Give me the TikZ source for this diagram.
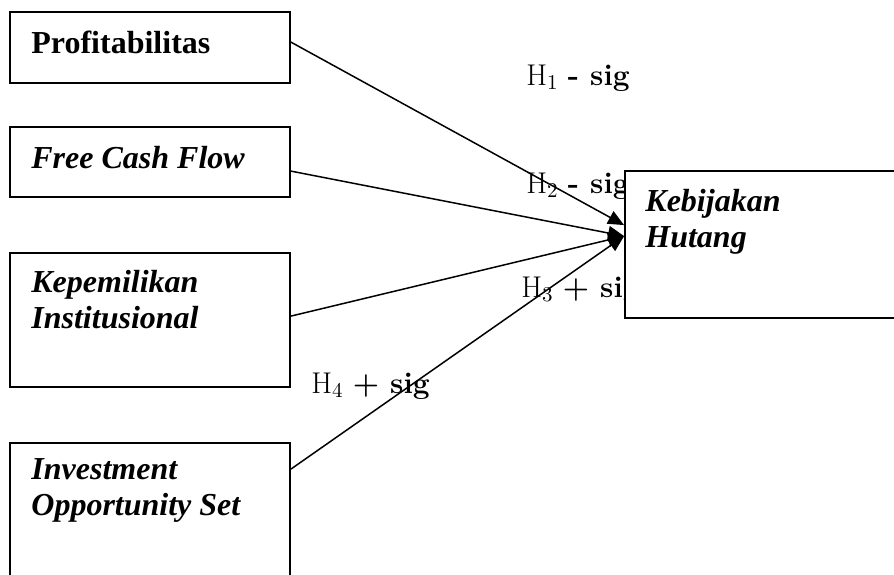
\documentclass[tikz,border=0pt]{standalone}
\usepackage{fontspec}
\newfontfamily\timesfont{Liberation Serif}
\usetikzlibrary{positioning,calc,arrows.meta}
\tikzset{
  box/.style={draw=black,fill=white,line width=0.9pt,rectangle,inner sep=0pt},
  var/.style={font=\timesfont\fontsize{16}{18}\selectfont\bfseries\itshape,align=left,anchor=base west,inner sep=0pt},
  varup/.style={var,font=\timesfont\fontsize{16}{18}\selectfont\bfseries},
  hyp/.style={font=\fontsize{15}{18}\selectfont,anchor=base west,inner sep=0pt},
  link/.style={draw=black,line width=0.75pt,-{Triangle[length=8pt,width=7pt]}},
}

\begin{document}
\begin{tikzpicture}[x=0.5pt,y=-0.5pt]
\useasboundingbox (0,0) rectangle (894,574);
\clip (0,0) rectangle (894,574);
% independent variables
\node[box,minimum width=140pt,minimum height=35.5pt] (prof) at (150,47.5) {};
\node[box,minimum width=140pt,minimum height=35pt] (fcf) at (150,162) {};
\node[box,minimum width=140pt,minimum height=67pt] (kep) at (150,320) {};
\node[box,minimum width=140pt,minimum height=83.5pt] (ios) at (150,526.5) {};
\node[varup] (profT) at (31,53) {Profitabilitas};
\node[var] (fcfT) at (31,168) {Free Cash Flow};
\node[var] (kepT) at (31,328) {Kepemilikan\\Institusional};
\node[var] (iosT) at (31,515) {Investment\\Opportunity Set};
% hypotheses
\node[hyp] (h1) at (526,85) {H\textsubscript{1} \textbf{- sig}};
\node[hyp] (h2) at (526,193) {H\textsubscript{2} \textbf{- sig}};
\node[hyp] (h3) at (521,297) {H\textsubscript{3} \textbf{+ sig}};
\node[hyp] (h4) at (311,393) {H\textsubscript{4} \textbf{+ sig}};
% dependent variable
\node[box,minimum width=150pt,minimum height=73.5pt] (hut) at (775,244.5) {};
\node[var] (hutT) at (645,247) {Kebijakan\\Hutang};
\coordinate (tip1) at ($(hut.north west)+(0,55)$);
\coordinate (tip) at ($(hut.north west)+(0,66)$);
\draw[link] ($(prof.north east)+(0,31)$) -- (tip1);
\draw[link] ($(fcf.north east)+(0,45)$) -- (tip);
\draw[link] ($(kep.north east)+(0,64)$) -- (tip);
\draw[link] ($(ios.north east)+(0,27)$) -- (tip);
\end{tikzpicture}
\end{document}
